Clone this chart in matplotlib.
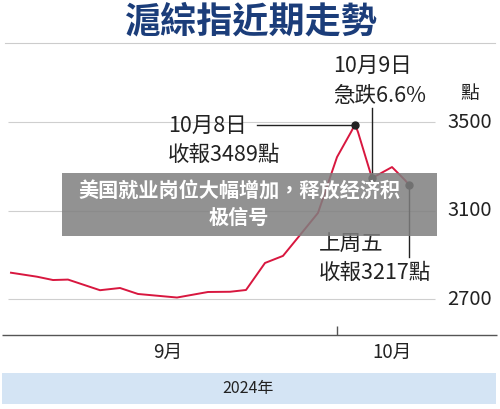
import matplotlib.pyplot as plt
from matplotlib.patches import Rectangle

plt.rcParams['font.family'] = ['Noto Sans CJK TC', 'DejaVu Sans']

# trading-day positions (horizontal axis units) and index closes
days = [11, 37, 53, 68, 100, 120, 138, 177, 208, 230, 246, 265, 283, 300,
        318, 337, 351, 355, 358, 372, 392, 405, 409]
close = [2820, 2802, 2787, 2789, 2741, 2751, 2724, 2708, 2733, 2734, 2742,
         2864, 2896, 2990, 3090, 3342, 3455, 3489, 3455, 3247, 3297, 3238, 3217]
yticks = [2700, 3100, 3500]
months = ['9月', '10月']
month_pos = [168, 392]
month_break = 337


def py(p):  # pixel row -> index value
    return 3100 - (p - 210.7) * 4.515


fig = plt.figure(figsize=(5, 4.09), dpi=100)
ax = fig.add_axes([0, 0, 1, 1])
ax.set_xlim(0, 500)
ax.set_ylim(py(409), py(0))
ax.axis('off')

red = '#d8173f'
ink = '#222222'

ax.text(250, py(22), '滬綜指近期走勢', ha='center', va='center',
        fontsize=26, fontweight='bold', color='#1b3d7a')
ax.axhline(py(43), xmin=0.01, xmax=0.99, color='#cccccc', lw=0.8)

for v in yticks:
    ax.hlines(v, 8, 435, color='#cfcfcf', lw=0.8)
    ax.text(470, v, str(v), ha='center', va='center', fontsize=14.5, color=ink)
ax.text(470, py(93), '點', ha='center', va='center', fontsize=13.5, color=ink)

ax.plot(days, close, color=red, lw=1.4, zorder=3)

# annotations
fs = 15.5
i8 = close.index(3489)
ax.plot([257, days[i8]], [close[i8]] * 2, color=ink, lw=1)
ax.plot(days[i8], close[i8], 'o', color=ink, ms=5, zorder=4)
ax.text(168, py(126), '10月8日', va='center', fontsize=fs, color=ink)
ax.text(168, py(155), '收報3489點', va='center', fontsize=fs, color=ink)

i9 = close.index(3247)
ax.plot([days[i9]] * 2, [py(108), close[i9]], color=ink, lw=1)
ax.plot(days[i9], close[i9], 'o', color=ink, ms=5, zorder=4)
ax.text(333, py(66), '10月9日', va='center', fontsize=fs, color=ink)
ax.text(333, py(96), '急跌6.6%', va='center', fontsize=fs, color=ink)

ax.plot([days[-1]] * 2, [close[-1], py(257)], color=ink, lw=1)
ax.plot(days[-1], close[-1], 'o', color=ink, ms=5, zorder=4)
ax.text(319, py(244), '上周五', va='center', fontsize=fs, color=ink)
ax.text(319, py(273), '收報3217點', va='center', fontsize=fs, color=ink)

# x axis
ax.hlines(py(335), 2, 497, color='#555555', lw=1)
ax.vlines(month_break, py(335), py(326), color='#555555', lw=1)
for m, x in zip(months, month_pos):
    ax.text(x, py(352), m, ha='center', va='center', fontsize=13.5, color=ink)
ax.add_patch(Rectangle((2, py(404)), 494, py(373) - py(404),
                       facecolor='#d4e4f4', edgecolor='none'))
ax.text(248, py(388), '2024年', ha='center', va='center', fontsize=11.5, color=ink)

# overlay banner
ax.add_patch(Rectangle((62, py(236)), 375, py(173) - py(236),
                       facecolor='#7f7f7f', alpha=0.85, edgecolor='none', zorder=6))
ax.text(239, py(191), '美国就业岗位大幅增加，释放经济积', ha='center', va='center',
        fontsize=14.5, fontweight='bold', color='white', zorder=7)
ax.text(239, py(217), '极信号', ha='center', va='center',
        fontsize=14.5, fontweight='bold', color='white', zorder=7)

fig.savefig('out.png', dpi=100)
